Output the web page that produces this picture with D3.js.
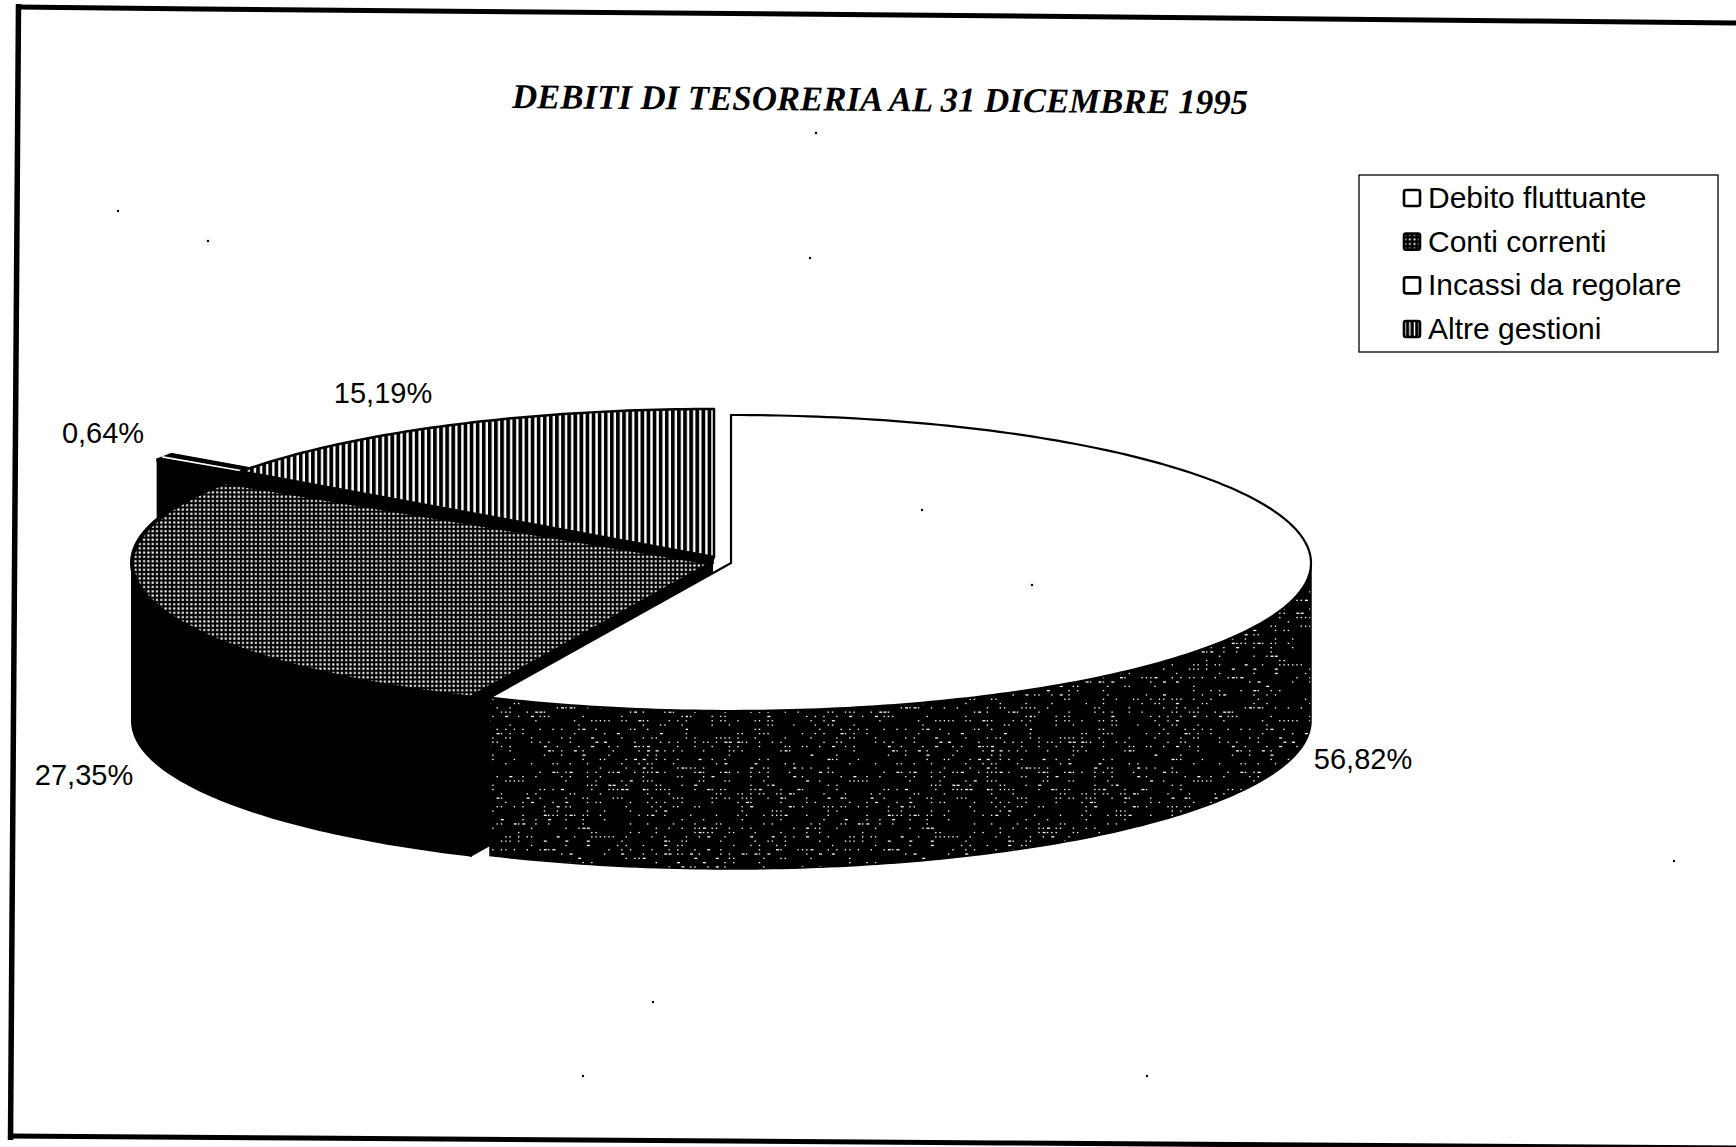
<!DOCTYPE html>
<html><head><meta charset="utf-8">
<style>html,body{margin:0;background:#fff}svg{display:block}</style>
<script src="https://cdn.jsdelivr.net/npm/d3@7"></script></head>
<body><div id="c"></div>
<script>
const chartTitle = "DEBITI DI TESORERIA AL 31 DICEMBRE 1995";
const categories = ["Debito fluttuante","Conti correnti","Incassi da regolare","Altre gestioni"];
const values = [56.82,27.35,0.64,15.19];
const valueLabels = ["56,82%","27,35%","0,64%","15,19%"];

const W=1736,H=1147;
const rx=580,ry=148,depth=158;
const centers=[[731,563],[712,563],[645,541],[714,557]];
const labelPos=[[1363,769],[84,785],[103,443],[383,403]];
const specks=[[816,133],[118,211],[208,241],[810,258],[922,510],[1032,585],[653,1002],[583,1076],[1147,1076],[1674,861]];

const svg=d3.select("#c").append("svg").attr("width",W).attr("height",H);
const defs=svg.append("defs");

// hatch patterns
const pV=defs.append("pattern").attr("id","stripes").attr("patternUnits","userSpaceOnUse").attr("width",6.1).attr("height",8);
pV.append("rect").attr("width",6.1).attr("height",8).attr("fill","#fff");
pV.append("rect").attr("width",3.7).attr("height",8).attr("fill","#000");
const pG=defs.append("pattern").attr("id","grid").attr("patternUnits","userSpaceOnUse").attr("width",4.3).attr("height",4.3);
pG.append("rect").attr("width",4.3).attr("height",4.3).attr("fill","#000");
pG.append("rect").attr("x",1.15).attr("y",1.15).attr("width",2.1).attr("height",2.1).attr("fill","#fff");
// scanned side wall: black with sparse specks on a deterministic lattice
const tileW=344,tileH=172;
const pS=defs.append("pattern").attr("id","side").attr("patternUnits","userSpaceOnUse").attr("width",tileW).attr("height",tileH);
pS.append("rect").attr("width",tileW).attr("height",tileH).attr("fill","#000");
let seed=12345;
const next=()=>(seed=(seed*1103515245+12345)%2147483648)/2147483648;
const speckCells=[];
for(let y=2;y<tileH;y+=4.3)for(let x=2;x<tileW;x+=4.3){
  const r=next(),w=next();
  if(r<0.24) speckCells.push([x,y,w<0.85?1.4:3,1.3]);
}
pS.selectAll("rect.d").data(speckCells).join("rect").attr("class","d")
  .attr("x",d=>d[0]).attr("y",d=>d[1]).attr("width",d=>d[2]).attr("height",d=>d[3]).attr("fill","#fff");
const pG2=defs.append("pattern").attr("id","gridL").attr("patternUnits","userSpaceOnUse").attr("width",4.6).attr("height",4.6);
pG2.append("rect").attr("width",4.6).attr("height",4.6).attr("fill","#000");
pG2.append("rect").attr("x",1.4).attr("y",1.4).attr("width",1.8).attr("height",1.8).attr("fill","#fff");
const pV2=defs.append("pattern").attr("id","stripesL").attr("patternUnits","userSpaceOnUse").attr("width",4.6).attr("height",8);
pV2.append("rect").attr("width",4.6).attr("height",8).attr("fill","#000");
pV2.append("rect").attr("x",1.6).attr("width",1.4).attr("height",8).attr("fill","#fff");

const fills=["#fff","url(#grid)","#fff","url(#stripes)"];
const legendFills=["#fff","url(#gridL)","#fff","url(#stripesL)"];

// frame (slightly skewed scan)
const frame=d3.line();
svg.append("path").attr("d",frame([[18.5,4],[10.5,1140]])).attr("stroke","#000").attr("stroke-width",5.5).attr("fill","none");
svg.append("path").attr("d",frame([[16,7],[200,9],[900,15],[1536,21],[1736,23]])).attr("stroke","#000").attr("stroke-width",5).attr("fill","none");
svg.append("path").attr("d",frame([[8,1136],[300,1138],[1000,1143],[1736,1148]])).attr("stroke","#000").attr("stroke-width",5).attr("fill","none");

// pie
const arcs=d3.pie().sort(null).value(d=>d)(values);
const proj=(c,a,dy=0)=>[
  d3.scaleLinear([-1,1],[c[0]-rx,c[0]+rx])(Math.sin(a)),
  d3.scaleLinear([-1,1],[c[1]-ry,c[1]+ry])(-Math.cos(a))+dy];
const arcPts=(c,a0,a1,dy=0)=>{
  const n=Math.max(2,Math.ceil((a1-a0)*60));
  return d3.range(n+1).map(i=>proj(c,a0+(a1-a0)*i/n,dy));
};
const line=d3.line();
function wedge(c,s){return line([c,...arcPts(c,s.startAngle,s.endAngle)])+"Z";}
function side(c,s){
  const a0=Math.max(s.startAngle,Math.PI/2),a1=Math.min(s.endAngle,Math.PI*1.5);
  if(a1<=a0) return null;
  return line([...arcPts(c,a0,a1),...arcPts(c,a0,a1,depth).reverse()])+"Z";
}
function face(c,a){const p=proj(c,a);return line([c,p,[p[0],p[1]+depth],[c[0],c[1]+depth]])+"Z";}

const g=svg.append("g");
// black hub closing the gap between the exploded slices
g.append("path").attr("d",line([centers[2],centers[3],centers[1],proj(centers[1],arcs[1].endAngle)])+"Z").attr("fill","#000").attr("stroke","#000").attr("stroke-width",2);
// Incassi da regolare: exploded sliver
{
  const c=centers[2],s=arcs[2];
  g.append("path").attr("d",face(c,s.endAngle)).attr("fill","#000").attr("stroke","#000").attr("stroke-width",4).attr("stroke-linejoin","round");
  g.append("path").attr("d",face(c,s.startAngle)).attr("fill","#000").attr("stroke","#000").attr("stroke-width",4);
  g.append("path").attr("d",wedge(c,s)).attr("fill","#000").attr("stroke","#000").attr("stroke-width",5).attr("stroke-linejoin","round");
  const p0=proj(c,s.startAngle),p1=proj(c,s.endAngle),t=0.36;
  const rim=[(p0[0]+p1[0])/2-3,(p0[1]+p1[1])/2-1];
  const tip=[rim[0]+(c[0]-rim[0])*t,rim[1]+(c[1]-rim[1])*t];
  g.append("path").attr("d",line([rim,tip])).attr("stroke","#fff").attr("stroke-width",1.6).attr("fill","none");
}
// Altre gestioni (back)
g.append("path").attr("d",wedge(centers[3],arcs[3])).attr("fill",fills[3]).attr("stroke","#000").attr("stroke-width",2.5).attr("stroke-linejoin","round");
// Conti correnti
{
  const c=centers[1],s=arcs[1];
  g.append("path").attr("d",face(c,s.startAngle)).attr("fill","#000").attr("stroke","#000").attr("stroke-width",2);
  g.append("path").attr("d",side(c,s)).attr("fill","#000").attr("stroke","#000").attr("stroke-width",2);
  g.append("path").attr("d",wedge(c,s)).attr("fill",fills[1]).attr("stroke","#000").attr("stroke-width",4).attr("stroke-linejoin","round");
}
// Debito fluttuante (front)
{
  const c=centers[0],s=arcs[0];
  g.append("path").attr("d",side(c,s)).attr("fill","url(#side)").attr("stroke","#000").attr("stroke-width",1.5);
  g.append("path").attr("d",wedge(c,s)).attr("fill",fills[0]).attr("stroke","#000").attr("stroke-width",2.2).attr("stroke-linejoin","round");
}

// labels
const F="'Liberation Sans',Arial,sans-serif";
svg.append("g").selectAll("text").data(valueLabels).join("text")
  .attr("x",(d,i)=>labelPos[i][0]).attr("y",(d,i)=>labelPos[i][1])
  .attr("text-anchor","middle").attr("font-family",F).attr("font-size",29).attr("fill","#000").text(d=>d);

// title
svg.append("text").attr("x",880).attr("y",111).attr("text-anchor","middle")
  .attr("transform","rotate(0.45 880 100)")
  .attr("font-family","'Liberation Serif','Times New Roman',serif").attr("font-weight","bold").attr("font-style","italic")
  .attr("font-size",34.8).attr("fill","#000").text(chartTitle);

// legend
svg.append("rect").attr("x",1359).attr("y",175).attr("width",359).attr("height",177).attr("fill","#fff").attr("stroke","#000").attr("stroke-width",1.3);
const rowY=d3.scalePoint().domain(categories).range([198,329]);
const lg=svg.append("g").selectAll("g").data(categories).join("g").attr("transform",d=>`translate(0,${rowY(d)})`);
lg.append("rect").attr("x",1404).attr("y",-8).attr("width",16).attr("height",16).attr("rx",2).attr("fill",(d,i)=>legendFills[i]).attr("stroke","#000").attr("stroke-width",2.6);
lg.append("text").attr("x",1428).attr("y",10).attr("font-family",F).attr("font-size",30).attr("fill","#000").text(d=>d);

// scan specks
svg.append("g").selectAll("circle").data(specks).join("circle").attr("cx",d=>d[0]).attr("cy",d=>d[1]).attr("r",1.2).attr("fill","#000");
</script></body></html>
